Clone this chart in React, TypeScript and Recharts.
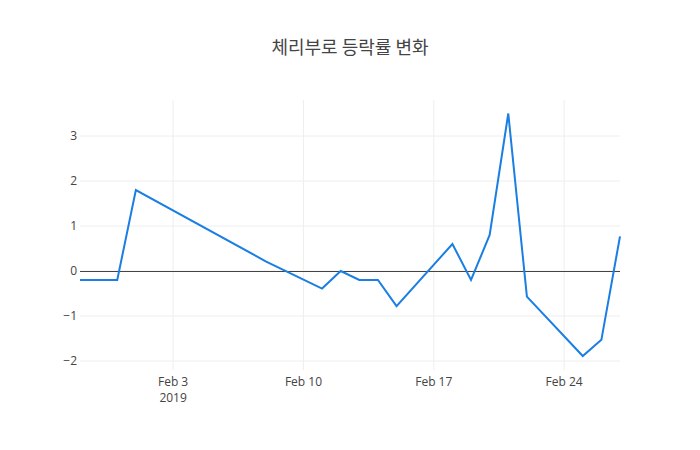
import { CartesianGrid, Line, LineChart, ReferenceLine, XAxis, YAxis } from "recharts"

const dates = [
  "2019-01-29", "2019-01-31", "2019-02-01", "2019-02-08", "2019-02-11",
  "2019-02-12", "2019-02-13", "2019-02-14", "2019-02-15", "2019-02-18",
  "2019-02-19", "2019-02-20", "2019-02-21", "2019-02-22", "2019-02-25",
  "2019-02-26", "2019-02-27",
]
const changes = [
  -0.2, -0.2, 1.8, 0.21, -0.39, 0, -0.2, -0.2, -0.78, 0.6, -0.2, 0.8, 3.5,
  -0.57, -1.89, -1.53, 0.77,
]
const tickDates = ["2019-02-03", "2019-02-10", "2019-02-17", "2019-02-24"]
const yTicks = [-2, -1, 0, 1, 2, 3]

const toTime = (d: string) => Date.parse(d + "T00:00:00Z")
const data = dates.map((d, i) => ({ t: toTime(d), v: changes[i] }))
const xTicks = tickDates.map(toTime)
const months = ["Jan", "Feb", "Mar", "Apr", "May", "Jun", "Jul", "Aug", "Sep", "Oct", "Nov", "Dec"]

const font = '"Open Sans", verdana, arial, sans-serif'

function DateTick(props: any) {
  const { x, y, payload, index } = props
  const d = new Date(payload.value)
  return (
    <g>
      <text x={x} y={y + 8} textAnchor="middle" fill="#444" fontSize={12} fontFamily={font}>
        {months[d.getUTCMonth()] + " " + d.getUTCDate()}
      </text>
      {index === 0 && (
        <text x={x} y={y + 24} textAnchor="middle" fill="#444" fontSize={12} fontFamily={font}>
          {d.getUTCFullYear()}
        </text>
      )}
    </g>
  )
}

export default function App() {
  return (
    <div style={{ width: 700, height: 450, background: "#fff", position: "relative" }}>
      <style>{"body{margin:0}"}</style>
      <div
        style={{
          position: "absolute",
          top: 33,
          width: 700,
          textAlign: "center",
          fontSize: 18,
          color: "#444",
          fontFamily: '"Noto Sans CJK KR", "Open Sans", sans-serif',
        }}
      >
        체리부로 등락률 변화
      </div>
      <LineChart width={700} height={450} data={data} margin={{ top: 100, right: 80, bottom: 0, left: 30 }}>
        <CartesianGrid stroke="#eee" strokeWidth={1} horizontalValues={yTicks} verticalValues={xTicks} />
        <XAxis
          dataKey="t"
          type="number"
          scale="time"
          domain={[toTime("2019-01-29"), toTime("2019-02-27")]}
          ticks={xTicks}
          tick={<DateTick />}
          axisLine={false}
          tickLine={false}
          height={80}
          interval={0}
        />
        <YAxis
          type="number"
          domain={[-2.2, 3.8]}
          ticks={yTicks}
          width={50}
          axisLine={false}
          tickLine={false}
          tickSize={3}
          tickMargin={0}
          allowDataOverflow
          tickFormatter={(v: number) => (v < 0 ? "\u2212" + Math.abs(v) : String(v))}
          tick={{ fill: "#444", fontSize: 12, fontFamily: font }}
        />
        <ReferenceLine y={0} stroke="#444" strokeWidth={1} shapeRendering="crispEdges" />
        <Line
          type="linear"
          dataKey="v"
          stroke="#1a7ee3"
          strokeWidth={2}
          dot={false}
          isAnimationActive={false}
        />
      </LineChart>
    </div>
  )
}
